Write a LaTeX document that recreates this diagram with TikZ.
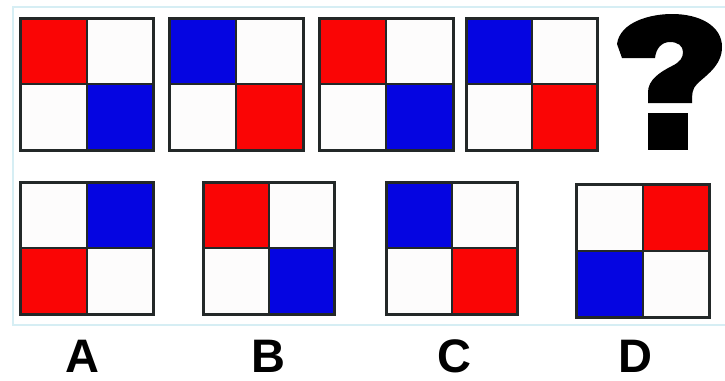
\documentclass[tikz,border=0pt]{standalone}
\usepackage{fontspec}
\setmainfont{Liberation Sans}
\definecolor{qred}{RGB}{250,5,5}
\definecolor{qblue}{RGB}{5,5,225}
\definecolor{qwhite}{RGB}{253,252,252}
\definecolor{framecol}{RGB}{214,238,244}
\definecolor{edgecol}{RGB}{35,40,40}
\newcommand\tile[8]{%
  \fill[#5] (#1,#2) rectangle ({(#1+#3)/2},{(#2+#4)/2});
  \fill[#6] ({(#1+#3)/2},#2) rectangle (#3,{(#2+#4)/2});
  \fill[#7] (#1,{(#2+#4)/2}) rectangle ({(#1+#3)/2},#4);
  \fill[#8] ({(#1+#3)/2},{(#2+#4)/2}) rectangle (#3,#4);
  \draw[innerline] ({(#1+#3)/2},#2) -- ({(#1+#3)/2},#4);
  \draw[innerline] (#1,{(#2+#4)/2}) -- (#3,{(#2+#4)/2});
  \draw[outerline] (#1,#2) rectangle (#3,#4);
}
\begin{document}
\begin{tikzpicture}[x=1pt,y=-1pt,
  outerline/.style={draw=edgecol,line width=3pt},
  innerline/.style={draw=edgecol,line width=2pt},
  qmark/.style={fill=black},
  letter/.style={inner sep=0pt,font=\fontsize{47}{47}\selectfont\bfseries}]
\useasboundingbox[fill=white] (0,0) rectangle (725,380);
% faint frame
\draw[framecol,line width=1.5pt] (725,7) -- (13,7) -- (13,325) -- (725,325);
% top row
\tile{20}{18}{153}{150}{qred}{qwhite}{qwhite}{qblue}
\tile{169}{18}{303}{150}{qblue}{qwhite}{qwhite}{qred}
\tile{319}{18}{453}{150}{qred}{qwhite}{qwhite}{qblue}
\tile{466}{18}{597}{150}{qblue}{qwhite}{qwhite}{qred}
% question mark
\fill[qmark] (622,58) -- (617,44) .. controls (620,22) and (650,14) .. (672,14)
  .. controls (700,14) and (722,26) .. (722,47)
  .. controls (722,66) and (705,76) .. (697,84)
  .. controls (692,89) and (692,94) .. (692,103) -- (648,103) -- (648,92)
  .. controls (648,80) and (660,72) .. (672,66)
  .. controls (680,62) and (683,58) .. (683,52)
  .. controls (683,46) and (678,42) .. (670,42)
  .. controls (662,42) and (656,48) .. (655,58) -- cycle;
\fill[qmark] (648,113) rectangle (688,150);
% bottom row
\tile{20}{182}{153}{314}{qwhite}{qblue}{qred}{qwhite}
\tile{203}{182}{334}{314}{qred}{qwhite}{qwhite}{qblue}
\tile{386}{182}{517}{314}{qblue}{qwhite}{qwhite}{qred}
\tile{576}{184}{709}{317}{qwhite}{qred}{qblue}{qwhite}
% labels
\node[letter] (la) at (82,356) {A};
\node[letter] (lb) at (268,356) {B};
\node[letter] (lc) at (454,356) {C};
\node[letter] (ld) at (635,356) {D};
\end{tikzpicture}
\end{document}
